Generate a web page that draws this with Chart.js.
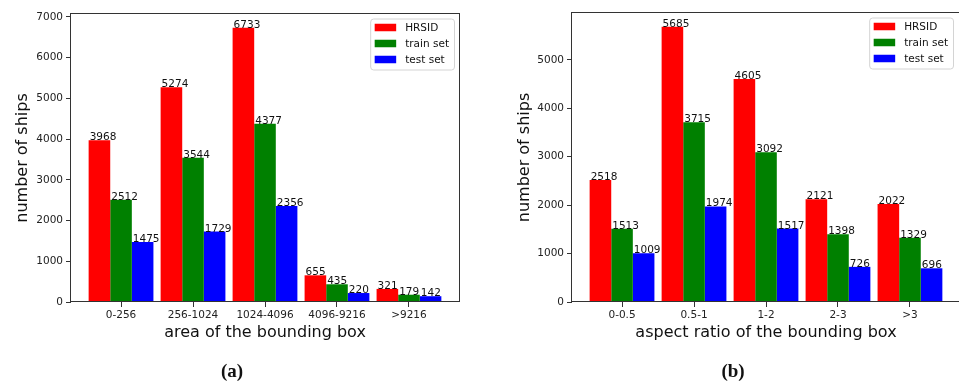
<!DOCTYPE html>
<html>
<head>
<meta charset="utf-8">
<script src="https://cdn.jsdelivr.net/npm/chart.js@4.4.1/dist/chart.umd.min.js"></script>
<style>
  html, body { margin: 0; padding: 0; background: #fff; }
  body { position: relative; width: 959px; height: 381px; overflow: hidden; }
  canvas { position: absolute; top: 0; }
  #chartArea { left: 0; }
  #chartRatio { left: 480px; }
  .cap {
    position: absolute; top: 360px; line-height: 20px;
    font: bold 19px "Liberation Serif", "DejaVu Serif", serif; color: #111;
    transform: translateX(-50%); white-space: nowrap;
  }
</style>
</head>
<body>
<canvas id="chartArea" width="480" height="381"></canvas>
<canvas id="chartRatio" width="481" height="381"></canvas>
<div class="cap" style="left:232px">(a)</div>
<div class="cap" style="left:733px">(b)</div>
<script>
// Series shared by both panels
const seriesNames = ['HRSID', 'train set', 'test set'];
const seriesColors = ['#ff0000', '#008000', '#0000ff'];

// Panel (a): ship counts by bounding-box area
const areaCategories = ['0-256', '256-1024', '1024-4096', '4096-9216', '>9216'];
const areaHRSID = [3968, 5274, 6733, 655, 321];
const areaTrain = [2512, 3544, 4377, 435, 179];
const areaTest  = [1475, 1729, 2356, 220, 142];
const areaYTicks = [0, 1000, 2000, 3000, 4000, 5000, 6000, 7000];

// Panel (b): ship counts by bounding-box aspect ratio
const ratioCategories = ['0-0.5', '0.5-1', '1-2', '2-3', '>3'];
const ratioHRSID = [2518, 5685, 4605, 2121, 2022];
const ratioTrain = [1513, 3715, 3092, 1398, 1329];
const ratioTest  = [1009, 1974, 1517, 726, 696];
const ratioYTicks = [0, 1000, 2000, 3000, 4000, 5000];

const FONT = 'DejaVu Sans';
Chart.defaults.font.family = FONT;
const BAR_W = 0.3;   // bar width in category units

// Value printed above each bar, starting at the bar's left edge
const valueLabels = {
  id: 'valueLabels',
  afterDatasetsDraw(chart) {
    const ctx = chart.ctx;
    ctx.save();
    ctx.font = '10.5px "' + FONT + '"';
    ctx.fillStyle = '#111';
    ctx.textAlign = 'left';
    ctx.textBaseline = 'alphabetic';
    chart.data.datasets.forEach((ds, di) => {
      chart.getDatasetMeta(di).data.forEach((bar, i) => {
        ctx.fillText(String(ds.data[i].y), bar.x - bar.width / 2 + 1, bar.y);
      });
    });
    ctx.restore();
  }
};

// Box round the plotting area
const frame = {
  id: 'frame',
  afterDatasetsDraw(chart) {
    const { ctx, chartArea: a } = chart;
    ctx.save();
    ctx.strokeStyle = '#333';
    ctx.lineWidth = 1;
    ctx.strokeRect(Math.round(a.left) - 0.5, Math.round(a.top) - 0.5,
                   Math.round(a.right - a.left) + 1, Math.round(a.bottom - a.top));
    ctx.restore();
  }
};

// Legend box in the upper-right corner of the plotting area
const cornerLegend = {
  id: 'cornerLegend',
  afterDraw(chart, args, opts) {
    const { ctx, chartArea: a } = chart;
    ctx.save();
    ctx.font = '10.5px "' + FONT + '"';
    const sw = 21.5, sh = 7.5, padL = 4.5, gap = 9, padR = 5, rowH = 16;
    const tw = Math.max(...chart.data.datasets.map(d => ctx.measureText(d.label).width));
    const w = padL + sw + gap + tw + padR;
    const h = 51;
    const x = a.right - opts.right - w;
    const y = a.top + opts.top;
    ctx.beginPath();
    ctx.roundRect(x + 0.5, y + 0.5, w, h, 3);
    ctx.fillStyle = 'rgba(255,255,255,0.85)';
    ctx.fill();
    ctx.strokeStyle = '#d4d4d4';
    ctx.lineWidth = 1;
    ctx.stroke();
    chart.data.datasets.forEach((d, i) => {
      const cy = y + 9 + i * rowH;
      ctx.fillStyle = d.backgroundColor;
      ctx.fillRect(x + padL, cy - sh / 2, sw, sh);
      ctx.fillStyle = '#111';
      ctx.textBaseline = 'middle';
      ctx.fillText(d.label, x + padL + sw + gap, cy + 0.5);
    });
    ctx.restore();
  }
};

function makeChart(id, cats, series, yTicks, xTitle, geom) {
  const n = cats.length;
  // x limits: outer bar edges plus a 5% margin on each side
  const lo = -1.5 * BAR_W, hi = (n - 1) + 1.5 * BAR_W;
  const m = (hi - lo) * 0.05;
  const yMax = Math.max(...series.flat()) * 1.05;

  const datasets = series.map((vals, si) => ({
    label: seriesNames[si],
    backgroundColor: seriesColors[si],
    borderWidth: 0,
    categoryPercentage: BAR_W * 3,
    barPercentage: 1.0,
    data: vals.map((v, i) => ({ x: i, y: v }))
  }));

  const tickFont = { family: FONT, size: 10.5 };
  return new Chart(document.getElementById(id), {
    type: 'bar',
    data: { datasets },
    plugins: [valueLabels, frame, cornerLegend],
    options: {
      responsive: false,
      animation: false,
      events: [],
      layout: { padding: { top: geom.padTop, right: geom.padRight, left: 0, bottom: 0 } },
      plugins: {
        legend: { display: false },
        tooltip: { enabled: false },
        cornerLegend: { right: geom.legendRight, top: 4.5 }
      },
      scales: {
        x: {
          type: 'linear',
          min: lo - m,
          max: hi + m,
          offset: false,
          afterBuildTicks: s => { s.ticks = cats.map((c, i) => ({ value: i })); },
          afterFit: s => { s.height = 79; },
          ticks: {
            callback: v => cats[v] ?? '',
            font: tickFont, color: '#222', padding: 2,
            maxRotation: 0, autoSkip: false
          },
          grid: { offset: false, drawOnChartArea: false, drawTicks: true, tickLength: 5, color: '#333' },
          border: { display: false },
          title: {
            display: true, text: xTitle, color: '#111',
            font: { family: FONT, size: 16 },
            padding: { top: 0, bottom: 38.4 }
          }
        },
        y: {
          min: 0,
          max: yMax,
          afterBuildTicks: s => { s.ticks = yTicks.map(v => ({ value: v })); },
          afterFit: s => { s.width = geom.yWidth; },
          ticks: { callback: v => String(v), font: tickFont, color: '#222', padding: 3 },
          grid: { offset: false, drawOnChartArea: false, drawTicks: true, tickLength: 5, color: '#333' },
          border: { display: false },
          title: {
            display: true, text: 'number of ships', color: '#111',
            font: { family: FONT, size: 16 },
            padding: { top: geom.yTitlePad, bottom: 0 }
          }
        }
      }
    }
  });
}

makeChart('chartArea', areaCategories, [areaHRSID, areaTrain, areaTest], areaYTicks,
  'area of the bounding box',
  { padTop: 14, padRight: 21, yWidth: 71, yTitlePad: 13.4, legendRight: 5 });

makeChart('chartRatio', ratioCategories, [ratioHRSID, ratioTrain, ratioTest], ratioYTicks,
  'aspect ratio of the bounding box',
  { padTop: 13, padRight: 1, yWidth: 92, yTitlePad: 35.4, legendRight: 7 });
</script>
</body>
</html>
